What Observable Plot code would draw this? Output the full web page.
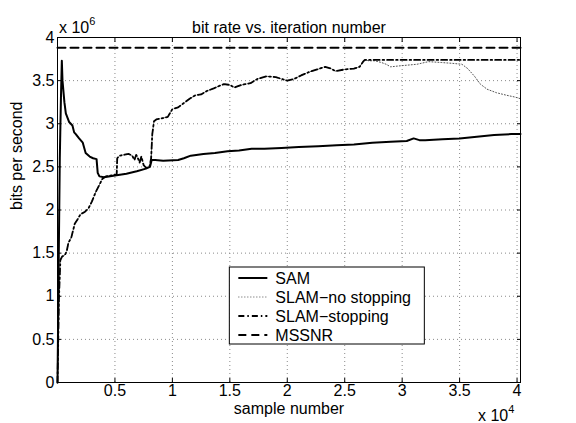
<!DOCTYPE html>
<html><head><meta charset="utf-8">
<script src="https://cdn.jsdelivr.net/npm/d3@7"></script>
<script src="https://cdn.jsdelivr.net/npm/@observablehq/plot@0.6"></script>
<style>body{margin:0;background:#fff} svg{display:block}</style>
</head><body><div id="chart"></div>
<script>
const title = "bit rate vs. iteration number";
const xLabel = "sample number";
const yLabel = "bits per second";
const seriesNames = ["SAM", "SLAM\u2212no stopping", "SLAM\u2212stopping", "MSSNR"];
const xTicks = [0, 5000, 10000, 15000, 20000, 25000, 30000, 35000, 40000];
const yTicks = [0, 0.5, 1, 1.5, 2, 2.5, 3, 3.5, 4];
const xMax = 40300;

// SAM (values in units of 1e6 bits/s)
const samX = [0, 30, 120, 200, 300, 377, 435, 600, 725, 1015, 1300, 1450, 1590, 1880, 2200, 2450, 2800, 3100, 3400, 3500, 3650, 4050, 5000, 6000, 6900, 7700, 8050, 8200, 8500, 9200, 10500, 11000, 11600, 12700, 13700, 14800, 15800, 16900, 18000, 19500, 21000, 22700, 24300, 25800, 27400, 29000, 30400, 31000, 31500, 32000, 33500, 35000, 36500, 38000, 39500, 40300];
const samY = [0, 0.4, 1.6, 2.6, 3.3, 3.73, 3.5, 3.25, 3.12, 3.02, 2.98, 2.9, 2.88, 2.83, 2.78, 2.66, 2.62, 2.6, 2.59, 2.43, 2.39, 2.38, 2.40, 2.42, 2.45, 2.48, 2.5, 2.58, 2.58, 2.57, 2.58, 2.6, 2.63, 2.65, 2.66, 2.68, 2.69, 2.71, 2.71, 2.72, 2.73, 2.74, 2.75, 2.76, 2.78, 2.79, 2.8, 2.83, 2.81, 2.81, 2.82, 2.83, 2.85, 2.87, 2.88, 2.88];

// SLAM path shared by both variants until the stopping point
const slamX = [0, 60, 120, 250, 400, 650, 800, 950, 1200, 1500, 1700, 2000, 2400, 2700, 3000, 3300, 3600, 3900, 4200, 4700, 5150, 5200, 5400, 5800, 6200, 6500, 6700, 6850, 7000, 7150, 7300, 7500, 7700, 8000, 8150, 8250, 8400, 8600, 9000, 9600, 10000, 10500, 11000, 11500, 12000, 12500, 13000, 13600, 14100, 14500, 15000, 15400, 16000, 16800, 17400, 18200, 19000, 19500, 20000, 20600, 21200, 21900, 22600, 23300, 23800, 24200, 25000, 25800, 26300, 26600, 26750];
const slamY = [0, 0.45, 0.95, 1.42, 1.46, 1.48, 1.52, 1.62, 1.68, 1.84, 1.88, 1.95, 1.98, 2.02, 2.1, 2.2, 2.28, 2.36, 2.39, 2.4, 2.41, 2.6, 2.63, 2.64, 2.65, 2.63, 2.58, 2.64, 2.6, 2.55, 2.62, 2.52, 2.49, 2.5, 2.6, 2.88, 3.03, 3.05, 3.06, 3.08, 3.17, 3.19, 3.24, 3.29, 3.33, 3.34, 3.38, 3.41, 3.44, 3.46, 3.45, 3.42, 3.45, 3.47, 3.52, 3.55, 3.54, 3.52, 3.5, 3.52, 3.56, 3.6, 3.63, 3.66, 3.64, 3.61, 3.63, 3.64, 3.66, 3.72, 3.74];

// after the stopping point
const stopTailX = [26750, 40300];
const stopTailY = [3.74, 3.74];
const noStopTailX = [26750, 27100, 27600, 28200, 28600, 29000, 29700, 30500, 31300, 32300, 33400, 34400, 35200, 35700, 36300, 36800, 37400, 38200, 39100, 39800, 40300];
const noStopTailY = [3.74, 3.73, 3.73, 3.71, 3.69, 3.66, 3.67, 3.68, 3.69, 3.72, 3.71, 3.70, 3.69, 3.64, 3.55, 3.46, 3.40, 3.36, 3.33, 3.31, 3.29];

const mssnrX = [0, 40300];
const mssnrY = [3.88, 3.88];

const zip = (xs, ys) => xs.map((x, i) => ({x, y: ys[i]}));
const sam = zip(samX, samY);
const noStop = zip(slamX, slamY).concat(zip(noStopTailX, noStopTailY).slice(1));
const stop = zip(slamX, slamY).concat(zip(stopTailX, stopTailY).slice(1));
const mssnr = zip(mssnrX, mssnrY);

const styles = [
  {stroke: "black", strokeWidth: 2, strokeDasharray: null},
  {stroke: "#555", strokeWidth: 1, strokeDasharray: "1,2"},
  {stroke: "black", strokeWidth: 1.8, strokeDasharray: "6,3,1.5,3"},
  {stroke: "black", strokeWidth: 2, strokeDasharray: "8,5"}
];

const font = "'Liberation Sans', Arial, Helvetica, sans-serif";
const FS = 16;
const fmt = d => String(d);

const plot = Plot.plot({
  width: 576, height: 423,
  marginLeft: 57, marginRight: 56, marginTop: 37, marginBottom: 41,
  style: {fontFamily: font, fontSize: FS + "px", background: "white", color: "black"},
  x: {domain: [0, xMax]},
  y: {domain: [0, 4]},
  marks: [
    Plot.gridX(xTicks, {stroke: "#8a8a8a", strokeOpacity: 1, strokeDasharray: "1,3"}),
    Plot.gridY(yTicks, {stroke: "#8a8a8a", strokeOpacity: 1, strokeDasharray: "1,3"}),
    Plot.line(noStop, {x: "x", y: "y", ...styles[1]}),
    Plot.line(stop, {x: "x", y: "y", ...styles[2]}),
    Plot.line(mssnr, {x: "x", y: "y", ...styles[3]}),
    Plot.line(sam, {x: "x", y: "y", ...styles[0], strokeLinejoin: "round"}),
    Plot.axisX(xTicks.slice(1), {anchor: "bottom", tickSize: 0, tickPadding: 2, tickFormat: d => fmt(d / 1e4), label: null, fontSize: FS}),
    Plot.axisY(yTicks, {anchor: "left", tickSize: 0, tickPadding: 3, tickFormat: fmt, label: null, fontSize: FS}),
    Plot.axisX(xTicks, {anchor: "bottom", tickSize: -4, tickFormat: () => "", label: null}),
    Plot.axisX(xTicks, {anchor: "top", tickSize: -4, tickFormat: () => "", label: null}),
    Plot.axisY(yTicks, {anchor: "left", tickSize: -4, tickFormat: () => "", label: null}),
    Plot.axisY(yTicks, {anchor: "right", tickSize: -4, tickFormat: () => "", label: null}),
    Plot.frame({stroke: "black", strokeWidth: 1}),
    Plot.text([title], {frameAnchor: "top", dy: -16, text: d => d, fontSize: FS}),
    Plot.text([xLabel], {frameAnchor: "bottom", dy: 31, text: d => d, fontSize: FS}),
    Plot.text([yLabel], {frameAnchor: "left", dx: -41, rotate: -90, text: d => d, fontSize: FS})
  ]
});

document.getElementById("chart").appendChild(plot);

const svg = d3.select(plot);
const sx = plot.scale("x"), sy = plot.scale("y");
const pxLeft = sx.apply(0), pxRight = sx.apply(xMax), pxTop = sy.apply(4), pxBottom = sy.apply(0);

// exponent labels
function expLabel(x, y, base, exp) {
  const t = svg.append("text").attr("x", x).attr("y", y).attr("text-anchor", "start")
    .attr("font-family", font).attr("font-size", FS).attr("fill", "black");
  t.append("tspan").text(base);
  t.append("tspan").attr("dy", -8).attr("font-size", 11).text(exp);
}
expLabel(pxLeft + 2, pxTop - 4, "x 10", "6");
expLabel(pxRight - 42, pxBottom + 39, "x 10", "4");

// legend, anchored at the 1.5e4 grid line
const lgX = sx.apply(xTicks[3]);
const lg = svg.append("g").attr("transform", `translate(${lgX},${pxTop + 230})`);
lg.append("rect").attr("width", 195).attr("height", 77).attr("fill", "white").attr("stroke", "black").attr("stroke-width", 1);
seriesNames.forEach((name, i) => {
  const yy = 11 + i * 19;
  const s = styles[i];
  lg.append("line").attr("x1", 9).attr("x2", 38).attr("y1", yy).attr("y2", yy)
    .attr("stroke", s.stroke).attr("stroke-width", s.strokeWidth)
    .attr("stroke-dasharray", s.strokeDasharray);
  lg.append("text").attr("x", 46).attr("y", yy + 6).attr("text-anchor", "start").attr("font-family", font)
    .attr("font-size", FS).attr("fill", "black").text(name);
});
</script>
</body></html>
